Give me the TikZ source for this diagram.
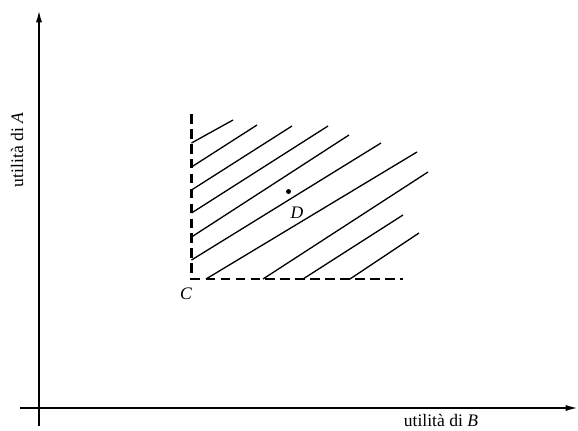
\documentclass[tikz,border=0pt]{standalone}
\usepackage{fontspec}
\setmainfont{Liberation Serif}
\usetikzlibrary{arrows.meta}

\begin{document}
\begin{tikzpicture}[
    x=0.02cm, y=-0.02cm,
    axisLine/.style={
        -{Latex[length=7pt, width=3.5pt]}, line width=1.1pt, draw=black
    },
    bordLine/.style={
        line width=1.25pt, dash pattern=on 5.5pt off 3pt
    },
    hatchLine/.style={
        line width=0.75pt
    },
    axisLabel/.style={
        font=\normalsize, inner sep=1pt
    },
    pointLabel/.style={
        font=\normalsize\itshape, inner sep=1pt
    }
]
    \useasboundingbox (0,0) rectangle (578,430);

    % Axes
    \coordinate (yBase) at (39,426);
    \coordinate (yTop) at (39,10);
    \coordinate (xBase) at (20,408);
    \coordinate (xTop) at (578,408);
    \draw[axisLine] (yBase) -- (yTop);
    \draw[axisLine] (xBase) -- (xTop);

    \node[axisLabel, rotate=90] (labA) at (17,150) {utilità di \textit{A}};
    \node[axisLabel] (labB) at (441,420) {utilità di \textit{B}};

    % Region border
    \coordinate (cCorner) at (191.5,279);
    \coordinate (cTop) at (191.5,114);
    \coordinate (cRight) at (403,279);
    \draw[bordLine] (cTop) -- (cCorner) -- (cRight);

    % Hatching
    \foreach \xa/\ya/\xb/\yb in {
        191.5/143/233/120,
        191.5/167/257/125,
        191.5/190/292/126,
        191.5/213/328/126,
        191.5/237/349/135,
        191.5/260/381/143,
        206/279/417/152,
        263/279/428/172,
        303/279/403/215,
        350/279/419/233}
        \draw[hatchLine] (\xa,\ya) -- (\xb,\yb);

    % Points
    \node[pointLabel] (labC) at (186,294) {C};
    \fill (288.5,191.5) circle (1.4pt);
    \node[pointLabel] (labD) at (297,213) {D};

\end{tikzpicture}
\end{document}
